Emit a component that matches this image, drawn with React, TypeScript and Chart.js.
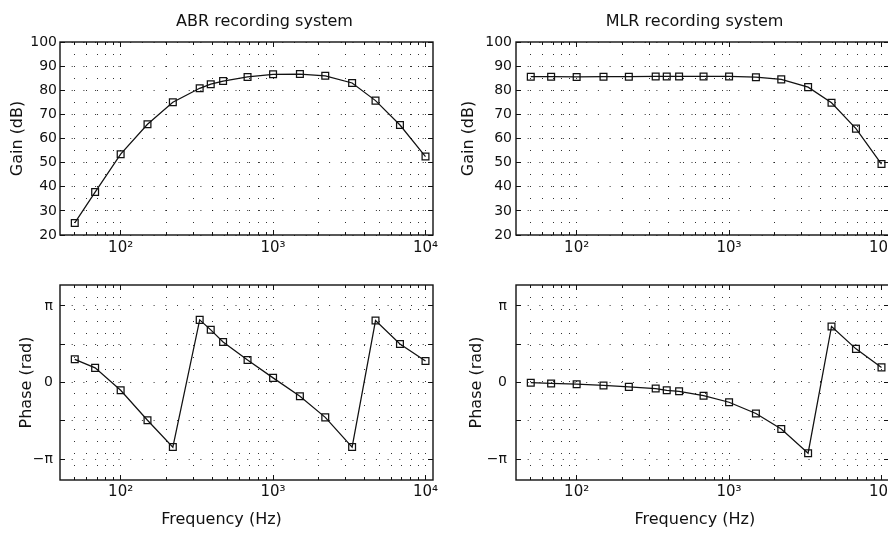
import React, { useEffect, useRef } from "react";
import { Chart, registerables } from "chart.js";

Chart.register(...registerables);

// ---------- data ----------
const frequencies = [50, 68, 100, 150, 220, 330, 390, 470, 680, 1000, 1500, 2200, 3300, 4700, 6800, 10000];
const abrGain = [25.0, 37.8, 53.5, 65.9, 75.0, 80.8, 82.5, 83.8, 85.5, 86.6, 86.7, 86.0, 83.0, 75.7, 65.6, 52.5];
const mlrGain = [85.6, 85.6, 85.5, 85.6, 85.6, 85.7, 85.7, 85.7, 85.7, 85.7, 85.4, 84.5, 81.3, 74.8, 64.1, 49.4];
const abrPhase = [0.95, 0.6, -0.32, -1.55, -2.65, 2.57, 2.16, 1.66, 0.92, 0.19, -0.56, -1.43, -2.65, 2.54, 1.58, 0.88];
const mlrPhase = [-0.01, -0.04, -0.07, -0.12, -0.18, -0.25, -0.32, -0.36, -0.54, -0.81, -1.27, -1.91, -2.9, 2.3, 1.38, 0.62];

const gainTicks = [20, 30, 40, 50, 60, 70, 80, 90, 100];
const gainTickLabels = ["20", "30", "40", "50", "60", "70", "80", "90", "100"];
const phaseTicks = [-Math.PI, -Math.PI / 2, 0, Math.PI / 2, Math.PI];
const phaseTickLabels = ["\u2212\u03c0", "", "0", "", "\u03c0"];
const freqGridTicks = [50, 60, 70, 80, 90, 100, 200, 300, 400, 500, 600, 700, 800, 900, 1000, 2000, 3000, 4000, 5000, 6000, 7000, 8000, 9000, 10000];
const freqMajor = [100, 1000, 10000];
const freqMajorLabels = ["10\u00b2", "10\u00b3", "10\u2074"];

const FONT = "'DejaVu Sans', 'Liberation Sans', sans-serif";
const INK = "#111111";
const GRID = "rgba(0,0,0,0.8)";

Chart.defaults.font.family = FONT;
Chart.defaults.color = INK;

type TextItem = { text: string; x: number; y: number; size: number };

const alignPx = (p: number) => Math.round(p - 0.5) + 0.5;

const framePlugin = {
  id: "frame",
  afterDraw(chart: any, _args: any, opts: any) {
    const { ctx, chartArea: a, scales } = chart;
    ctx.save();
    ctx.strokeStyle = INK;
    ctx.lineWidth = 1.4;
    ctx.strokeRect(a.left, a.top, a.right - a.left, a.bottom - a.top);
    ctx.lineWidth = 1;
    ctx.beginPath();
    const xs = scales.x;
    xs.ticks.forEach((t: any) => {
      const px = alignPx(xs.getPixelForValue(t.value));
      const len = freqMajor.includes(t.value) ? 5 : 3;
      ctx.moveTo(px, a.bottom);
      ctx.lineTo(px, a.bottom - len);
      ctx.moveTo(px, a.top);
      ctx.lineTo(px, a.top + len);
    });
    const ys = scales.y;
    ys.ticks.forEach((t: any) => {
      const py = alignPx(ys.getPixelForValue(t.value));
      ctx.moveTo(a.left, py);
      ctx.lineTo(a.left + 5, py);
      ctx.moveTo(a.right, py);
      ctx.lineTo(a.right - 5, py);
    });
    ctx.stroke();
    ctx.fillStyle = INK;
    ctx.textAlign = "center";
    ctx.textBaseline = "alphabetic";
    (opts.texts || []).forEach((t: TextItem) => {
      ctx.font = `${t.size}px ${FONT}`;
      ctx.fillText(t.text, t.x, t.y);
    });
    ctx.restore();
  },
};

type PanelSpec = {
  left: number;
  top: number;
  width: number;
  height: number;
  values: number[];
  yMin: number;
  yMax: number;
  yTicks: number[];
  yLabels: string[];
  yTitle: string;
  yTitlePad: number;
  yTickPad: number;
  xTickPad: number;
  xAxisHeight: number;
  padTop: number;
  texts: TextItem[];
};

function Panel({ spec }: { spec: PanelSpec }) {
  const ref = useRef<HTMLCanvasElement | null>(null);
  useEffect(() => {
    if (!ref.current) return;
    const chart = new Chart(ref.current, {
      type: "line",
      data: {
        datasets: [
          {
            data: frequencies.map((f, i) => ({ x: f, y: spec.values[i] })),
            borderColor: INK,
            borderWidth: 1.25,
            tension: 0,
            pointStyle: "rect",
            pointRadius: 4.8,
            pointBorderWidth: 1.25,
            pointBorderColor: INK,
            pointBackgroundColor: "rgba(255,255,255,0)",
            fill: false,
          },
        ],
      },
      plugins: [framePlugin],
      options: {
        animation: false,
        responsive: false,
        maintainAspectRatio: false,
        devicePixelRatio: 1,
        events: [],
        layout: { padding: { top: spec.padTop, right: 11, left: 0, bottom: 0 } },
        plugins: {
          legend: { display: false },
          tooltip: { enabled: false },
          title: { display: false },
          frame: { texts: spec.texts },
        } as any,
        scales: {
          x: {
            type: "logarithmic",
            min: 40,
            max: 11200,
            bounds: "data",
            afterBuildTicks: (s: any) => {
              s.ticks = freqGridTicks.map((v) => ({ value: v }));
            },
            afterFit: (s: any) => {
              s.height = spec.xAxisHeight;
            },
            ticks: {
              autoSkip: false,
              maxRotation: 0,
              minRotation: 0,
              padding: spec.xTickPad,
              font: { size: 15 },
              color: INK,
              callback: (v: any) => {
                const k = freqMajor.indexOf(Number(v));
                return k >= 0 ? freqMajorLabels[k] : "";
              },
            },
            grid: { color: GRID, lineWidth: 1, drawTicks: false },
            border: { display: false, dash: [1, 11] },
          },
          y: {
            type: "linear",
            min: spec.yMin,
            max: spec.yMax,
            afterBuildTicks: (s: any) => {
              s.ticks = spec.yTicks.map((v) => ({ value: v }));
            },
            afterFit: (s: any) => {
              s.width = 60;
            },
            ticks: {
              autoSkip: false,
              padding: spec.yTickPad,
              font: { size: 14 },
              color: INK,
              callback: (_v: any, i: number) => spec.yLabels[i],
            },
            grid: { color: GRID, lineWidth: 1, drawTicks: false },
            border: { display: false, dash: [1, 10.7] },
            title: {
              display: true,
              text: spec.yTitle,
              font: { size: 16 },
              color: INK,
              padding: { top: spec.yTitlePad, bottom: 0 },
            },
          },
        },
      } as any,
    });
    return () => chart.destroy();
  }, [spec]);
  return (
    <canvas
      ref={ref}
      width={spec.width}
      height={spec.height}
      style={{ position: "absolute", left: spec.left, top: spec.top, width: spec.width, height: spec.height }}
    />
  );
}

const panels: PanelSpec[] = [
  {
    left: 0, top: 0, width: 444, height: 260,
    values: abrGain, yMin: 20, yMax: 100, yTicks: gainTicks, yLabels: gainTickLabels,
    yTitle: "Gain (dB)", yTitlePad: 8, yTickPad: 3, xTickPad: 4, xAxisHeight: 25, padTop: 42,
    texts: [{ text: "ABR recording system", x: 264.5, y: 25.5, size: 16 }],
  },
  {
    left: 456, top: 0, width: 444, height: 260,
    values: mlrGain, yMin: 20, yMax: 100, yTicks: gainTicks, yLabels: gainTickLabels,
    yTitle: "Gain (dB)", yTitlePad: 3.4, yTickPad: 4, xTickPad: 4, xAxisHeight: 25, padTop: 42,
    texts: [{ text: "MLR recording system", x: 238.5, y: 25.5, size: 16 }],
  },
  {
    left: 0, top: 260, width: 444, height: 273,
    values: abrPhase, yMin: -4, yMax: 4, yTicks: phaseTicks, yLabels: phaseTickLabels,
    yTitle: "Phase (rad)", yTitlePad: 17.4, yTickPad: 7, xTickPad: 3, xAxisHeight: 53, padTop: 25,
    texts: [{ text: "Frequency (Hz)", x: 221.5, y: 264, size: 16 }],
  },
  {
    left: 456, top: 260, width: 444, height: 273,
    values: mlrPhase, yMin: -4, yMax: 4, yTicks: phaseTicks, yLabels: phaseTickLabels,
    yTitle: "Phase (rad)", yTitlePad: 10.9, yTickPad: 9, xTickPad: 3, xAxisHeight: 53, padTop: 25,
    texts: [{ text: "Frequency (Hz)", x: 238.8, y: 264, size: 16 }],
  },
];

export default function App() {
  return (
    <div
      style={{
        position: "absolute",
        left: 0,
        top: 0,
        width: 888,
        height: 533,
        overflow: "hidden",
        background: "#ffffff",
      }}
    >
      {panels.map((p, i) => (
        <Panel key={i} spec={p} />
      ))}
    </div>
  );
}
